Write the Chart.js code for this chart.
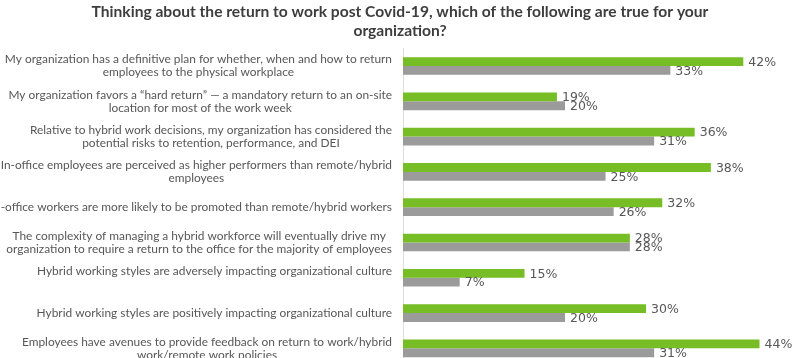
<!DOCTYPE html>
<html>
<head>
<meta charset="utf-8">
<script src="https://cdn.jsdelivr.net/npm/chart.js@4/dist/chart.umd.min.js"></script>
<style>
  html, body { margin: 0; padding: 0; background: #ffffff; }
  #wrap { width: 800px; height: 358px; overflow: hidden; position: relative; }
  canvas { display: block; }
</style>
</head>
<body>
<div id="wrap"><canvas id="c" width="800" height="366"></canvas></div>
<script>
// ---- data ----
const titleLines = [
  "Thinking about the return to work post Covid-19, which of the following are true for your",
  "organization?"
];
const categories = [
  ["My organization has a definitive plan for whether, when and how to return", "employees to the physical workplace"],
  ["My organization favors a \u201chard return\u201d \u2014 a mandatory return to an on-site", "location for most of the work week"],
  ["Relative to hybrid work decisions, my organization has considered the", "potential risks to retention, performance, and DEI"],
  ["In-office employees are perceived as higher performers than remote/hybrid", "employees"],
  ["In-office workers are more likely to be promoted than remote/hybrid workers"],
  ["The complexity of managing a hybrid workforce will eventually drive my", "organization to require a return to the office for the majority of employees"],
  ["Hybrid working styles are adversely impacting organizational culture", ""],
  ["Hybrid working styles are positively impacting organizational culture"],
  ["Employees have avenues to provide feedback on return to work/hybrid", "work/remote work policies"]
];
const greenValues = [42, 19, 36, 38, 32, 28, 15, 30, 44];
const grayValues  = [33, 20, 31, 25, 26, 28, 7, 20, 31];

const GREEN = "#77bd25";
const GRAY = "#9b9b9b";
const TEXT = "#575757";

const labelPlugin = {
  id: "sideLabels",
  afterDraw(chart) {
    const ctx = chart.ctx;
    const yScale = chart.scales.y;
    const rightX = chart.chartArea.left - 11;
    const lh = 13;
    ctx.save();
    ctx.font = "11.9px Lato";
    ctx.fillStyle = TEXT;
    ctx.textAlign = "center";
    ctx.textBaseline = "middle";
    categories.forEach((lines, i) => {
      const cy = yScale.getPixelForValue(i);
      let w = 0;
      lines.forEach(l => { w = Math.max(w, ctx.measureText(l).width); });
      const cx = rightX - w / 2;
      const top = cy - (lines.length - 1) * lh / 2;
      lines.forEach((l, k) => ctx.fillText(l, cx, top + k * lh));
    });
    ctx.restore();
  },
  afterDatasetsDraw(chart) {
    const ctx = chart.ctx;
    ctx.save();
    ctx.font = "12.5px 'DejaVu Sans'";
    ctx.fillStyle = TEXT;
    ctx.textAlign = "left";
    ctx.textBaseline = "middle";
    chart.data.datasets.forEach((ds, di) => {
      const meta = chart.getDatasetMeta(di);
      meta.data.forEach((bar, i) => {
        ctx.fillText(ds.data[i] + "%", bar.x + 5, bar.y + 1);
      });
    });
    ctx.restore();
  }
};

new Chart(document.getElementById("c"), {
  type: "bar",
  data: {
    labels: categories,
    datasets: [
      { label: "A", data: greenValues, backgroundColor: GREEN, categoryPercentage: 0.5, barPercentage: 1.0 },
      { label: "B", data: grayValues, backgroundColor: GRAY, categoryPercentage: 0.5, barPercentage: 1.0 }
    ]
  },
  options: {
    indexAxis: "y",
    responsive: false,
    animation: false,
    devicePixelRatio: 1,
    layout: { padding: 0 },
    scales: {
      x: { display: false, min: 0, max: 49 },
      y: {
        ticks: { display: false },
        grid: { display: false, drawTicks: false },
        border: { display: true, color: "#dcdcdc", width: 1 },
        afterFit(scale) { scale.width = 403; }
      }
    },
    plugins: {
      legend: { display: false },
      tooltip: { enabled: false },
      title: {
        display: true,
        text: titleLines,
        color: "#3d3d3d",
        font: { family: "Lato", size: 15.6, weight: "bold", lineHeight: 1.23 },
        padding: { top: 2, bottom: 8 }
      }
    }
  },
  plugins: [labelPlugin]
});
</script>
</body>
</html>
